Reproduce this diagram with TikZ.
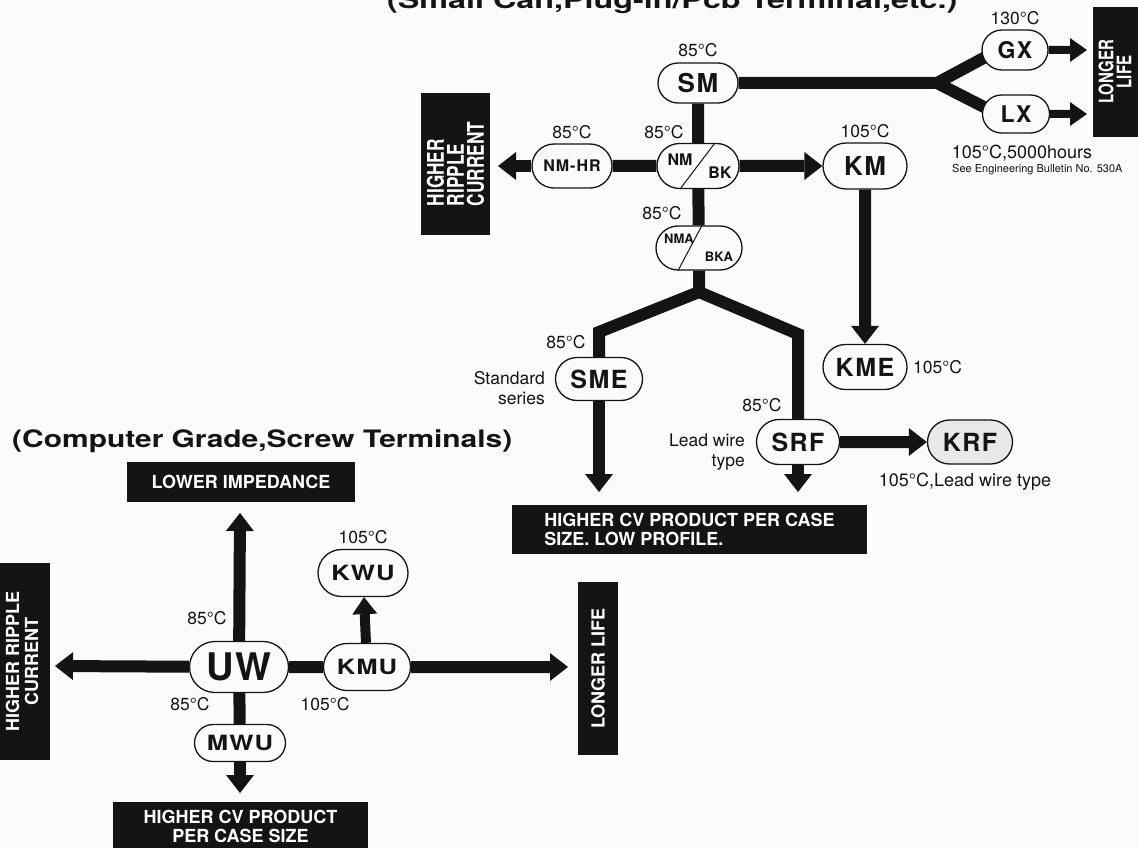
\documentclass[tikz,border=0pt]{standalone}
\usepackage{fontspec}
\usepackage{graphicx}
\setmainfont{TeX Gyre Heros}
\newfontfamily\lab[LetterSpace=6]{TeX Gyre Heros}
\newfontfamily\labw[FakeStretch=1.22,LetterSpace=5]{TeX Gyre Heros}
\newfontfamily\cnd[FakeStretch=0.75]{TeX Gyre Heros}
\usetikzlibrary{shapes.misc,arrows.meta,backgrounds,calc}
\definecolor{ink}{HTML}{141414}
\definecolor{bg}{HTML}{FBFBF9}
\definecolor{kgrey}{HTML}{E8E8E6}
\newcommand\fsz[2]{\fontsize{#1}{#2}\selectfont}
\pgfdeclarelayer{bgfill}
\pgfsetlayers{bgfill,background,main}
\begin{document}
\begin{tikzpicture}[x=1pt,y=-1pt,
  pill/.style={rounded rectangle, draw=ink, line width=1.3pt, fill=bg, inner sep=0pt, text=ink},
  big/.style={font=\lab\bfseries\fsz{26}{26}},
  mid/.style={font=\lab\bfseries\fsz{25}{25}},
  wlab/.style={font=\labw\bfseries\fsz{21}{21}},
  tmp/.style={font=\fsz{17.5}{20}, text=ink, inner sep=0pt},
  blk/.style={rectangle, fill=ink, text=white, inner sep=0pt},
  wire/.style={draw=ink, line width=12pt, line join=miter},
  arr/.style={draw=ink, line width=12pt, -{Triangle[length=18pt,width=28pt,line width=0pt]}},
  arrm/.style={draw=ink, line width=10pt, -{Triangle[length=17pt,width=25pt,line width=0pt]}},
  arrs/.style={draw=ink, line width=8pt, -{Triangle[length=17pt,width=24pt,line width=0pt]}},
]
\begin{pgfonlayer}{bgfill}
\fill[bg] (0,0) rectangle (1138,848);
\end{pgfonlayer}
\useasboundingbox (0,0) rectangle (1138,848);

% ---------- titles
\node[anchor=base west, inner sep=0pt, text=ink] (T1) at (387,9)
  {\resizebox{570pt}{\height}{\bfseries\fsz{24}{24}(Small Can,Plug-in/Pcb Terminal,etc.)}};
\node[anchor=base west, inner sep=0pt, text=ink] (T2) at (12,447)
  {\resizebox{500pt}{\height}{\bfseries\fsz{24}{24}(Computer Grade,Screw Terminals)}};

% ---------- top section nodes
\node[pill, big, minimum width=80, minimum height=40] (SM) at (698,83) {SM};
\node[pill, font=\lab\bfseries\fsz{23}{23}, minimum width=66, minimum height=40] (GX) at (1015,50) {GX};
\node[pill, font=\lab\bfseries\fsz{23}{23}, minimum width=67, minimum height=38] (LX) at (1016,114) {LX};
\node[pill, font=\lab\bfseries\fsz{16}{16}, minimum width=80, minimum height=44] (NMHR) at (572,166) {NM-HR};
\node[pill, minimum width=82, minimum height=45] (NMBK) at (698,166) {};
\draw[ink, line width=1pt] ([xshift=-18pt]NMBK.south) -- ([xshift=17pt]NMBK.north);
\node[font=\bfseries\fsz{16}{16}, inner sep=0pt, text=ink] (NMt) at (680,160) {NM};
\node[font=\bfseries\fsz{16}{16}, inner sep=0pt, text=ink] (BKt) at (720,173) {BK};
\node[pill, big, minimum width=84, minimum height=46] (KM) at (865,166) {KM};
\node[pill, minimum width=86, minimum height=44] (NMA) at (699,248) {};
\draw[ink, line width=1pt] ([xshift=-21pt]NMA.south) -- ([xshift=3pt]NMA.north);
\node[font=\bfseries\fsz{13}{13}, inner sep=0pt, text=ink] (NMAt) at (679,239) {NMA};
\node[font=\bfseries\fsz{13}{13}, inner sep=0pt, text=ink] (BKAt) at (719,257) {BKA};
\node[pill, mid, minimum width=84, minimum height=45] (KME) at (865,367) {KME};
\node[pill, mid, minimum width=87, minimum height=43] (SME) at (599,379) {SME};
\node[pill, mid, minimum width=83, minimum height=45] (SRF) at (798,442) {SRF};
\node[pill, mid, fill=kgrey, minimum width=85, minimum height=44] (KRF) at (970,442) {KRF};

% top black boxes
\node[blk, rotate=90, minimum width=142, minimum height=69, align=left,
      font=\cnd\bfseries\fsz{23}{20}] (HRC1) at (455.5,164) {HIGHER\\RIPPLE\\CURRENT};
\node[blk, rotate=90, minimum width=130, minimum height=54, align=center,
      font=\cnd\bfseries\fsz{20}{18}] (LL1) at (1120,72) {};
\node[rotate=90, align=center, inner sep=0pt, text=white,
      font=\cnd\bfseries\fsz{20}{18}] (LL1t) at (1115,72) {LONGER\\LIFE};
\node[blk, minimum width=355, minimum height=49, align=left,
      font=\bfseries\fsz{18}{19}] (SCV) at (689.5,529.5) {HIGHER CV PRODUCT PER CASE\\SIZE. LOW PROFILE.};

% top labels
\node[tmp] (lSM) at (698,50) {85°C};
\node[tmp] (lGX) at (1015,18) {130°C};
\node[tmp] (lNMHR) at (572,132) {85°C};
\node[tmp] (lNMBK) at (664,132) {85°C};
\node[tmp] (lKM) at (865,131) {105°C};
\node[tmp] (lNMA) at (662,213) {85°C};
\node[tmp] (lSME) at (566,342) {85°C};
\node[tmp, anchor=east, align=right] (nStd) at (545,388) {Standard\\series};
\node[tmp] (lSRF) at (762,405) {85°C};
\node[tmp, anchor=east, align=right] (nLead) at (745,452.5) {Lead wire\\type};
\node[tmp, anchor=west] (lKME) at (913,367) {105°C};
\node[tmp, font=\fsz{18}{20}] (lLX) at (1022,153) {105°C,5000hours};
\node[font=\fsz{11}{12}, anchor=west, inner sep=0pt, text=ink] (nSee) at (952,170) {See Engineering Bulletin No. 530A};
\node[tmp, font=\fsz{18}{20}] (lKRF) at (965,482) {105°C,Lead wire type};

% ---------- bottom section nodes
\node[pill, font=\lab\bfseries\fsz{38}{38}, minimum width=99, minimum height=51] (UW) at (239,667) {UW};
\node[pill, wlab, minimum width=87, minimum height=47] (KMU) at (367,667) {KMU};
\node[pill, wlab, minimum width=90, minimum height=47] (KWU) at (363,573) {KWU};
\node[pill, wlab, minimum width=91, minimum height=37] (MWU) at (240,743) {MWU};

\node[blk, minimum width=228, minimum height=40, font=\bfseries\fsz{18}{19}] (LI) at (241,482) {LOWER IMPEDANCE};
\node[blk, minimum width=255, minimum height=48, align=center, font=\bfseries\fsz{18}{19}] (HCV) at (240.5,826)
  {HIGHER CV PRODUCT\\PER CASE SIZE};
\node[blk, rotate=90, minimum width=197, minimum height=56, align=center,
      font=\bfseries\fsz{18}{19}] (HRC2) at (22,661.5) {HIGHER RIPPLE\\CURRENT};
\node[blk, rotate=90, minimum width=173, minimum height=40,
      font=\bfseries\fsz{18}{19}] (LL2) at (598,668.5) {LONGER LIFE};

\node[tmp] (lKWU) at (363,537) {105°C};
\node[tmp] (lUW) at (207,618) {85°C};
\node[tmp] (lMWU) at (190,704) {85°C};
\node[tmp] (lKMU) at (325,704) {105°C};

% ---------- coordinates
\coordinate (br1) at (937,83);
\coordinate (tGX) at (1087,50);
\coordinate (tLX) at (1087,114);
\coordinate (tHR) at (498,166);
\coordinate (br2) at (699,292);
\coordinate (b2l) at (599,332);
\coordinate (b2r) at (798,334);
\coordinate (tSME) at (599,492);
\coordinate (tSRF) at (798,492);
\coordinate (tUp) at (240,513);
\coordinate (tLeft) at (55,666);
\coordinate (tDown) at (240,793);
\coordinate (tRight) at (568,667);

% ---------- connectors
\begin{pgfonlayer}{background}
\draw[wire] (SM) -- (br1) -- ([shift={(6,6)}]GX.west);
\draw[wire, line cap=round] (br1) -- ([shift={(6,-5)}]LX.west);
\draw[arrs] (GX) -- (tGX);
\draw[arrs] (LX) -- (tLX);
\draw[wire] (SM) -- (NMBK);
\draw[wire] (NMBK) -- (NMHR);
\draw[arr] (NMHR) -- (tHR);
\draw[arr] (NMBK) -- (KM);
\draw[arr] (KM) -- (KME);
\draw[wire] (NMBK) -- (NMA);
\draw[wire] (NMA) -- (br2) -- (b2l) -- (SME);
\draw[wire, line cap=round] (br2) -- (b2r) -- (SRF);
\draw[arr] (SME) -- (tSME);
\draw[arr] (SRF) -- (tSRF);
\draw[arr] (SRF) -- (KRF);
\draw[arr] (UW) -- (tUp);
\draw[arr] (UW) -- (tLeft);
\draw[wire] (UW) -- (KMU);
\draw[wire] (UW) -- (MWU);
\draw[arr] (MWU) -- (tDown);
\draw[arrm] (KMU) -- (KWU);
\draw[arr] (KMU) -- (tRight);
\end{pgfonlayer}
\end{tikzpicture}
\end{document}
